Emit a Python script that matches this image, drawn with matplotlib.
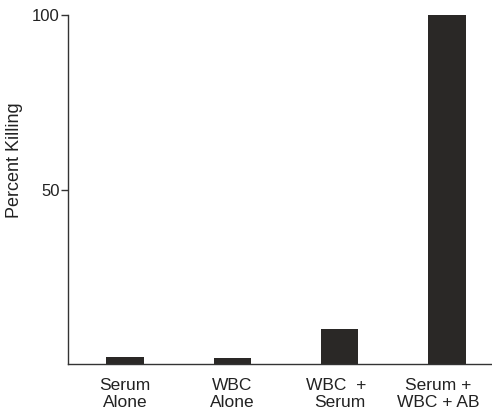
import matplotlib
matplotlib.use("Agg")
import matplotlib.pyplot as plt
from matplotlib.transforms import ScaledTranslation

categories = ["Serum\nAlone", "WBC\nAlone", "WBC  +\nSerum", "Serum +\nWBC + AB"]
values = [2.0, 1.7, 10.0, 100.0]
yticks = [50, 100]

plt.rcParams['font.family'] = ['Liberation Sans', 'DejaVu Sans']

fig = plt.figure(figsize=(4.92, 4.13), dpi=100)
ax = fig.add_axes([68/492, 1 - 364/413, 1 - 68/492, (364 - 15)/413])

x = list(range(len(categories)))
ax.bar(x, values, width=0.35, color="#2a2826")
ax.set_xlim(-0.533, 3.42)
ax.set_ylim(0, 100)

for s in ["top", "right"]:
    ax.spines[s].set_visible(False)
for s in ["left", "bottom"]:
    ax.spines[s].set_linewidth(1.0)
    ax.spines[s].set_color("#333333")

ax.set_yticks(yticks)
ax.set_yticklabels([str(v) for v in yticks], fontsize=12, color="#222222")
ax.tick_params(axis="y", direction="out", length=5, width=1.0, pad=1, color="#333333")
ax.set_xticks(x)
ax.set_xticklabels(categories, fontsize=12.5, color="#222222", linespacing=1.2)
ax.tick_params(axis="x", length=0, pad=10)
labs = ax.get_xticklabels()
for lab in labs:
    lab.set_multialignment("center")
labs[2].set_multialignment("right")
for i, dx in [(2, -4), (3, -9)]:
    labs[i].set_transform(labs[i].get_transform() + ScaledTranslation(dx / 100, 0, fig.dpi_scale_trans))

fig.text(15/492, 1 - 160/413, "Percent Killing", rotation=90, fontsize=13,
         color="#222222", ha="center", va="center")

fig.savefig("out.png", dpi=100)
